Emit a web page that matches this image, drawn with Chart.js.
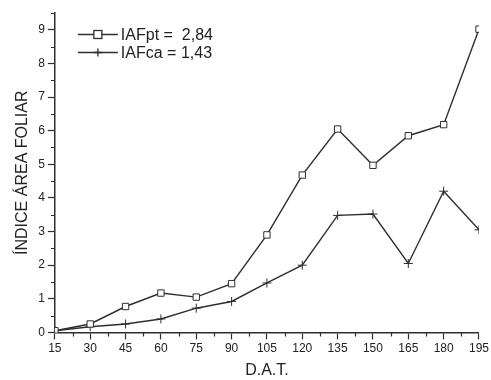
<!DOCTYPE html>
<html>
<head>
<meta charset="utf-8">
<script src="https://cdn.jsdelivr.net/npm/chart.js@4/dist/chart.umd.min.js"></script>
<style>
	html, body { margin: 0; padding: 0; background: #fff; }
	#wrap { width: 491px; height: 380px; }
</style>
</head>
<body>
<div id="wrap"><canvas id="iaf"></canvas></div>
<script>
// dias apos transplante
var dat = [15, 30, 45, 60, 75, 90, 105, 120, 135, 150, 165, 180, 195];
var iafPt = [0.05, 0.25, 0.77, 1.17, 1.05, 1.45, 2.9, 4.68, 6.05, 4.97, 5.85, 6.18, 9.02];
var iafCa = [0.05, 0.17, 0.25, 0.4, 0.72, 0.92, 1.47, 2.0, 3.48, 3.52, 2.05, 4.2, 3.05];
var legendLabels = ["IAFpt =  2,84", "IAFca = 1,43"];

var ink = "#2e2e2e";
var fam = "'Liberation Sans', Arial, sans-serif";

function pts(ys) {
	return dat.map(function(x, i) { return {x: x, y: ys[i]}; });
}

function isMajor(v, step) {
	return Math.abs(v / step - Math.round(v / step)) < 1e-6;
}

// ticks menores + legenda com linha e marcador
var extras = {
	id: "extras",
	afterDraw: function(chart) {
		var c = chart.ctx;
		var xs = chart.scales.x, ys = chart.scales.y;
		c.save();
		c.strokeStyle = ink;
		c.lineWidth = 1.2;
		c.beginPath();
		xs.ticks.forEach(function(t) {
			if (isMajor(t.value - 15, 15)) return;
			var px = Math.round(xs.getPixelForValue(t.value)) + 0.5;
			c.moveTo(px, xs.top);
			c.lineTo(px, xs.top + 4);
		});
		ys.ticks.forEach(function(t) {
			if (isMajor(t.value, 1)) return;
			var py = Math.round(ys.getPixelForValue(t.value)) + 0.5;
			c.moveTo(ys.right, py);
			c.lineTo(ys.right - 4, py);
		});
		c.stroke();

		// legenda
		var lx = chart.chartArea.left + 23, ly = 34;
		c.font = "16px " + fam;
		c.textBaseline = "middle";
		chart.data.datasets.forEach(function(ds, i) {
			var y = ly + i * 18 + 0.5;
			c.beginPath();
			c.lineWidth = 1.3;
			c.moveTo(lx, y);
			c.lineTo(lx + 40, y);
			c.stroke();
			var mx = lx + 20;
			if (ds.pointStyle === "rect") {
				c.fillStyle = "#fff";
				c.fillRect(mx - 4, y - 4, 8, 8);
				c.strokeRect(mx - 4, y - 4, 8, 8);
			} else {
				c.beginPath();
				c.moveTo(mx - 4, y); c.lineTo(mx + 4, y);
				c.moveTo(mx, y - 4); c.lineTo(mx, y + 4);
				c.stroke();
			}
			c.fillStyle = "#222";
			c.fillText(legendLabels[i], lx + 43, y + 1);
		});
		c.restore();
	}
};

new Chart(document.getElementById("iaf"), {
	type: "line",
	data: {
		datasets: [
			{
				label: legendLabels[0],
				data: pts(iafPt),
				borderColor: ink,
				borderWidth: 1.4,
				pointStyle: "rect",
				pointRadius: 4.5,
				pointBorderWidth: 1,
				pointBackgroundColor: "#fff",
				pointBorderColor: ink,
				tension: 0
			},
			{
				label: legendLabels[1],
				data: pts(iafCa),
				borderColor: ink,
				borderWidth: 1.4,
				pointStyle: "cross",
				pointRadius: 4.5,
				pointBorderWidth: 1,
				pointBorderColor: ink,
				tension: 0
			}
		]
	},
	options: {
		responsive: true,
		maintainAspectRatio: false,
		animation: false,
		layout: { padding: { top: 13, right: 9, left: 13, bottom: 0 } },
		plugins: {
			legend: { display: false },
			tooltip: { enabled: false }
		},
		scales: {
			x: {
				type: "linear",
				min: 15,
				max: 195,
				border: { color: ink, width: 1.5 },
				grid: {
					drawOnChartArea: false,
					tickLength: 7,
					tickWidth: 1.2,
					tickColor: function(ctx) {
						return isMajor(ctx.tick.value - 15, 15) ? ink : "rgba(0,0,0,0)";
					}
				},
				ticks: {
					stepSize: 7.5,
					autoSkip: false,
					maxRotation: 0,
					padding: 2,
					color: "#222",
					font: { family: fam, size: 12 },
					callback: function(v) { return isMajor(v - 15, 15) ? v : ""; }
				},
				title: {
					display: true,
					text: "D.A.T.",
					color: "#222",
					padding: { top: 3, bottom: 0 },
					font: { family: fam, size: 16 }
				}
			},
			y: {
				min: 0,
				max: 9.5,
				border: { color: ink, width: 1.5 },
				grid: {
					drawOnChartArea: false,
					tickLength: 7,
					tickWidth: 1.2,
					tickColor: function(ctx) {
						return isMajor(ctx.tick.value, 1) ? ink : "rgba(0,0,0,0)";
					}
				},
				ticks: {
					stepSize: 0.5,
					autoSkip: false,
					padding: 3,
					color: "#222",
					font: { family: fam, size: 12 },
					callback: function(v) { return isMajor(v, 1) ? v : ""; }
				},
				title: {
					display: true,
					text: "ÍNDICE ÁREA FOLIAR",
					color: "#222",
					padding: { top: 0, bottom: 3 },
					font: { family: fam, size: 16 }
				}
			}
		}
	},
	plugins: [extras]
});
</script>
</body>
</html>
